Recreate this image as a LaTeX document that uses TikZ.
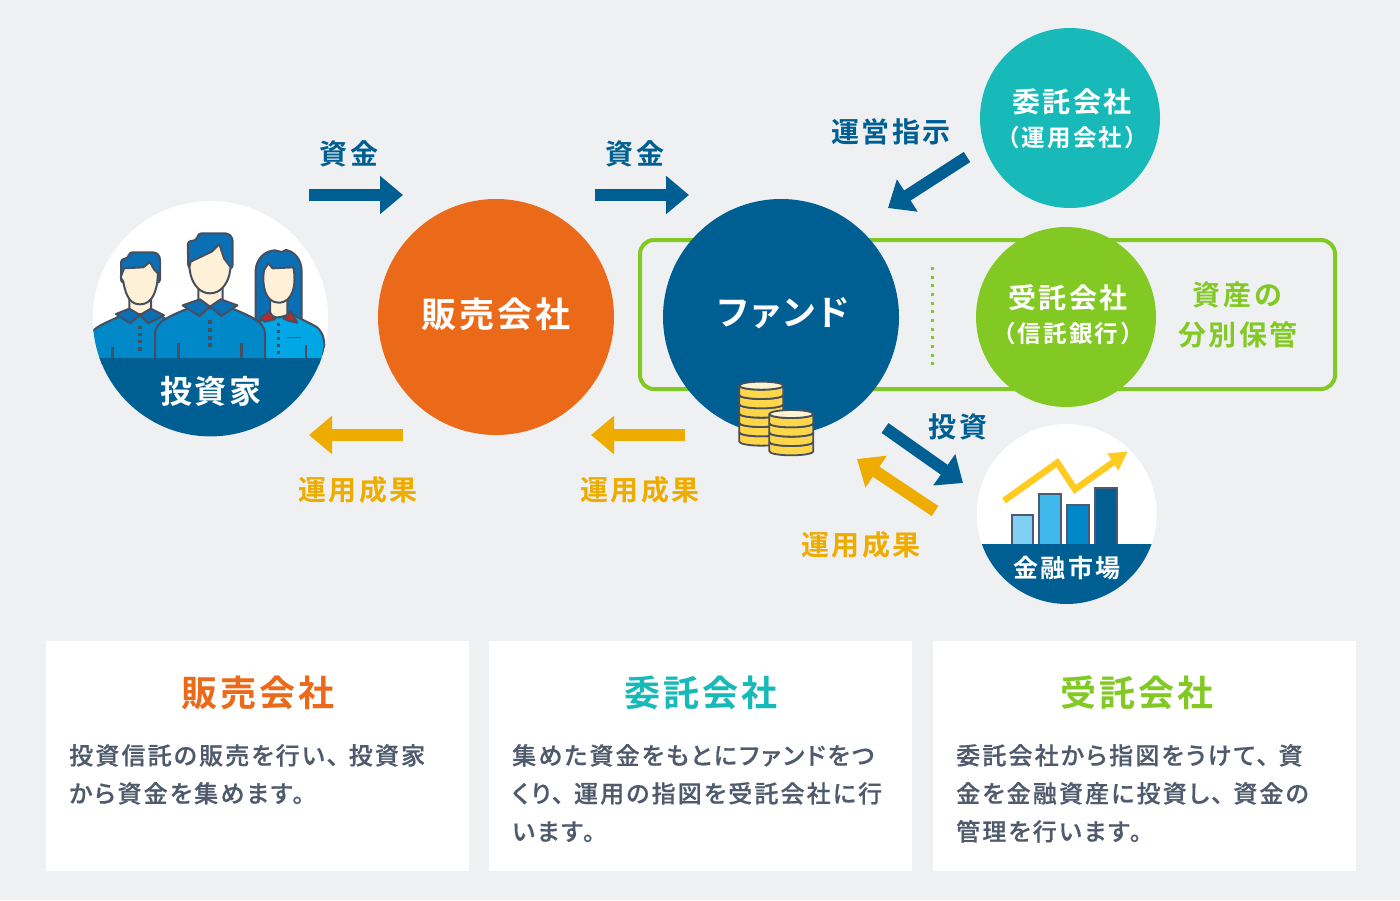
\documentclass[tikz,border=0pt]{standalone}
\usepackage{fontspec}
\usetikzlibrary{arrows.meta,shapes.geometric}
\newfontfamily\jpb[LetterSpace=9]{Noto Sans CJK JP Bold}
\newfontfamily\jpbp[LetterSpace=9,RawFeature=+palt]{Noto Sans CJK JP Bold}
\newfontfamily\jpm[LetterSpace=9,FakeBold=0.5,RawFeature=+palt]{Noto Sans CJK JP Medium}
\newcommand{\tou}{、\kern10pt}
\definecolor{bgc}{HTML}{EEF0F2}
\definecolor{navy}{HTML}{005F92}
\definecolor{orangec}{HTML}{EB6A1A}
\definecolor{tealc}{HTML}{17B9B9}
\definecolor{greenc}{HTML}{82C923}
\definecolor{amber}{HTML}{EEAB00}
\definecolor{bodyc}{HTML}{4F5A6C}
\definecolor{ink}{HTML}{474F5F}
\definecolor{hairc}{HTML}{0A6FB4}
\definecolor{skin}{HTML}{FFF1D8}
\definecolor{shirtA}{HTML}{0088C9}
\definecolor{shirtB}{HTML}{00A7E4}
\definecolor{redc}{HTML}{C0272D}
\definecolor{coinc}{HTML}{FFD648}
\definecolor{cointop}{HTML}{FFF4D0}
\definecolor{barA}{HTML}{7FD0F2}
\definecolor{barB}{HTML}{3FB8EC}
\definecolor{barO}{HTML}{4C5A72}
\definecolor{trend}{HTML}{FFCB20}
\tikzset{
  disc/.style={circle,inner sep=0pt,minimum size=#1,draw=none},
  blockarrow/.style={line width=12pt,draw=#1,-{Triangle[length=23pt,width=37pt,fill=#1]}},
  lbl/.style={inner sep=0pt,font=\jpb\fontsize{#1}{#1}\selectfont},
  lblp/.style={inner sep=0pt,font=\jpbp\fontsize{#1}{#1}\selectfont},
  panel/.style={fill=white,draw=none,inner sep=0pt,minimum height=230pt,minimum width=423pt},
  bodytext/.style={inner sep=0pt,anchor=north west,align=left,text=bodyc,font=\jpm\fontsize{24}{38}\selectfont},
  figline/.style={draw=ink,line width=2pt,line join=round},
  hairline/.style={figline,fill=hairc,rounded corners=3pt},
  figbtn/.style={fill=ink,draw=none},
  coinline/.style={draw=ink,line width=1.8pt,line join=round},
  bar/.style={draw=barO,line width=2.2pt,fill=#1}
}
\newcommand{\coinstack}[4]{% x-centre, top y, layers, rx
  \foreach \k in {#3,...,1}{
    \pgfmathsetmacro{\yy}{#2+(\k-1)*28}
    \path[coinline,fill=coinc] ({#1-#4},\yy) -- ({#1-#4},\yy+28) arc[start angle=180,end angle=0,x radius=#4,y radius=12] -- ({#1+#4},\yy) arc[start angle=0,end angle=180,x radius=#4,y radius=12] -- cycle;
  }
  \path[coinline,fill=cointop] (#1,#2) ellipse[x radius=#4,y radius=12];
}
\begin{document}
\begin{tikzpicture}[x=1pt,y=-1pt]
\useasboundingbox (0,0) rectangle (1400,900);
\fill[bgc] (0,0) rectangle (1400,900);

% custody frame
\node[draw=greenc,line width=4pt,rounded corners=14pt,fill=none,minimum width=695pt,minimum height=149pt,inner sep=0pt] (frame) at (987.5,314.5) {};
\coordinate (dotA) at (932,267);
\coordinate (dotB) at (932,365);
\draw[greenc,line width=3pt,dash pattern=on 3pt off 5.67pt] (dotA) -- (dotB);

% circles
\node[disc=235.4pt,fill=white] (investor) at (210.5,318.7) {};
\node[disc=236pt,fill=orangec] (sales) at (496,317) {};
\node[disc=236pt,fill=navy] (fund) at (781,317) {};
\node[disc=180pt,fill=tealc] (manager) at (1070,118) {};
\node[disc=180pt,fill=greenc] (trustee) at (1066,317) {};
\node[disc=180pt,fill=white] (market) at (1066.7,514) {};

% investors illustration
\begin{scope}
\clip (210.5,318.7) circle (117.7);
\begin{scope}[shift={(80,190)},x=0.33333pt,y=-0.33333pt]
 % woman
 \path[figline,fill=hairc] (527,392) -- (527,240) .. controls (530,205) and (555,182) .. (585,181) -- (605,186) -- (618,180) .. controls (645,185) and (665,210) .. (665,245) -- (665,392) -- cycle;
 \path[figline,fill=skin] (570,325) -- (570,375) -- (595,385) -- (622,375) -- (622,325) -- cycle;
 \path[figline,fill=skin] (552,240) -- (565,220) -- (578,235) -- (640,232) .. controls (650,280) and (640,338) .. (596,338) .. controls (555,338) and (545,285) .. (552,240) -- cycle;
 \path[figline,fill=shirtB] (540,390) -- (640,375) -- (705,408) .. controls (725,420) and (733,440) .. (733,470) -- (725,520) -- (540,520) -- cycle;
 \path[figline,fill=redc] (540,385) -- (568,364) -- (584,388) -- (555,395) -- cycle;
 \path[figline,fill=redc] (610,385) -- (632,364) -- (652,398) -- (625,392) -- cycle;
 \foreach \b in {403,425,446,466,487}{\fill[figbtn] (590,\b-5) rectangle (601,\b+5);}
 \draw[ink,line width=1.6pt] (622,443) -- (662,443);
 \draw[ink,line width=1.6pt] (678,465) -- (678,505);
 % left man
 \path[hairline] (123,278) -- (123,208) -- (145,204) -- (148,187) -- (228,187) -- (240,200) -- (240,278) -- cycle;
 \path[figline,fill=skin] (148,325) -- (148,375) -- (180,385) -- (213,375) -- (213,325) -- cycle;
 \path[figline,fill=skin] (132,235) -- (190,232) -- (210,216) -- (222,238) -- (234,250) -- (232,275) .. controls (225,325) and (205,343) .. (180,343) .. controls (155,343) and (138,325) .. (130,275) -- (122,262) -- cycle;
 \path[figline,fill=shirtA] (30,430) .. controls (60,400) and (90,395) .. (125,375) -- (230,370) -- (262,390) -- (250,520) -- (30,520) -- cycle;
 \path[figline,fill=hairc] (108,372) -- (148,356) -- (180,375) -- (150,400) -- cycle;
 \path[figline,fill=hairc] (252,376) -- (212,356) -- (180,375) -- (205,400) -- cycle;
 \foreach \b in {413,433,455,477}{\fill[figbtn] (174,\b-5) rectangle (186,\b+5);}
 \draw[ink,line width=3.5pt] (98,470) -- (98,505);
 % centre man
 \path[hairline] (325,235) -- (323,155) -- (350,150) -- (355,130) -- (445,130) -- (458,145) -- (458,235) -- cycle;
 \path[figline,fill=skin] (355,290) -- (355,340) -- (390,352) -- (428,340) -- (428,290) -- cycle;
 \path[figline,fill=skin] (332,215) -- (395,185) -- (418,162) -- (432,205) -- (452,232) -- (448,255) .. controls (440,285) and (420,310) .. (390,310) .. controls (360,310) and (340,285) .. (332,255) -- (328,232) -- cycle;
 \path[figline,fill=shirtA] (225,520) -- (225,430) .. controls (228,400) and (250,385) .. (325,355) -- (455,355) .. controls (530,385) and (552,400) .. (555,430) -- (555,520) -- cycle;
 \path[figline,fill=hairc] (308,346) -- (360,328) -- (390,350) -- (358,378) -- cycle;
 \path[figline,fill=hairc] (472,346) -- (422,328) -- (390,350) -- (424,378) -- cycle;
 \foreach \b in {395,420,443,466}{\fill[figbtn] (384,\b-6) rectangle (396,\b+6);}
 \draw[ink,line width=3.5pt] (295,460) -- (295,505);
 \draw[ink,line width=3.5pt] (485,460) -- (485,505);
\end{scope}
\fill[navy] (80,358) rectangle (340,440);
\end{scope}

% market illustration
\begin{scope}
\clip (1066.7,514) circle (90);
\begin{scope}[shift={(960,410)},x=0.33333pt,y=-0.33333pt]
 \path[bar=barA] (155,315) rectangle (220,410);
 \path[bar=barB] (238,251) rectangle (303,410);
 \path[bar=shirtA] (322,284) rectangle (388,410);
 \path[bar=navy] (405,235) rectangle (472,410);
 \draw[trend,line width=6.5pt,line join=miter] (132,272) -- (292,158) -- (345,238) -- (462,155);
 \fill[trend] (503,125) -- (442,130) -- (475,182) -- cycle;
\end{scope}
\fill[navy] (960,544) rectangle (1170,610);
\end{scope}

% coins
\begin{scope}[shift={(720,370)},x=0.33333pt,y=-0.33333pt]
 \coinstack{124}{47}{6}{66}
 \coinstack{214}{132}{4}{66}
\end{scope}

% arrow anchors
\coordinate (a1s) at (309,195); \coordinate (a1e) at (403,195);
\coordinate (a2s) at (595,195); \coordinate (a2e) at (689,195);
\coordinate (a3s) at (403,435); \coordinate (a3e) at (309,435);
\coordinate (a4s) at (685,435); \coordinate (a4e) at (591,435);
\coordinate (a5s) at (967,157); \coordinate (a5e) at (888,208);
\coordinate (a6s) at (885,428); \coordinate (a6e) at (963,483);
\coordinate (a7s) at (935,511); \coordinate (a7e) at (857,459);
\draw[blockarrow=navy] (a1s) -- (a1e);
\draw[blockarrow=navy] (a2s) -- (a2e);
\draw[blockarrow=amber] (a3s) -- (a3e);
\draw[blockarrow=amber] (a4s) -- (a4e);
\draw[blockarrow=navy] (a5s) -- (a5e);
\draw[blockarrow=navy] (a6s) -- (a6e);
\draw[blockarrow=amber] (a7s) -- (a7e);

% circle labels
\node[lbl=35,text=white] (tSales) at (496,314) {販売会社};
\node[lblp=35,text=white] (tFund) at (783,313) {ファンド};
\node[lbl=32,text=white] (tInv) at (211,391) {投資家};
\node[lbl=28,text=white] (tMgr) at (1072,101.7) {委託会社};
\node[lbl=23.5,text=white] (tMgr2) at (1072,137.7) {（運用会社）};
\node[lbl=28,text=white] (tTr) at (1068,297.7) {受託会社};
\node[lbl=23.5,text=white] (tTr2) at (1068,333.7) {（信託銀行）};
\node[lbl=25,text=white] (tMkt) at (1067,568) {金融市場};

% arrow labels
\node[lbl=28,text=navy] (l1) at (349,153.7) {資金};
\node[lbl=28,text=navy] (l2) at (635,153.7) {資金};
\node[lbl=28,text=navy] (l3) at (891,132) {運営指示};
\node[lbl=28,text=navy] (l4) at (958,426.7) {投資};
\node[lbl=28,text=amber] (l5) at (358,490) {運用成果};
\node[lbl=28,text=amber] (l6) at (640,490) {運用成果};
\node[lbl=28,text=amber] (l7) at (861,545) {運用成果};
\node[lbl=28,text=greenc] (l8) at (1237.5,294.7) {資産の};
\node[lbl=28,text=greenc] (l9) at (1238,334.7) {分別保管};

% panels
\node[panel] (p1) at (257.5,756) {};
\node[panel] (p2) at (700.5,756) {};
\node[panel] (p3) at (1144.5,756) {};
\node[lbl=36,text=orangec] (h1) at (258,692.7) {販売会社};
\node[lbl=36,text=tealc] (h2) at (701,692.7) {委託会社};
\node[lbl=36,text=greenc] (h3) at (1137,692.7) {受託会社};
\node[bodytext] (b1) at (69,744) {投資信託の販売を行い\tou 投資家\\から資金を集めます。};
\node[bodytext] (b2) at (512,744) {集めた資金をもとにファンドをつ\\くり\tou 運用の指図を受託会社に行\\います。};
\node[bodytext] (b3) at (956,744) {委託会社から指図をうけて\tou 資\\金を金融資産に投資し\tou 資金の\\管理を行います。};
\end{tikzpicture}
\end{document}
